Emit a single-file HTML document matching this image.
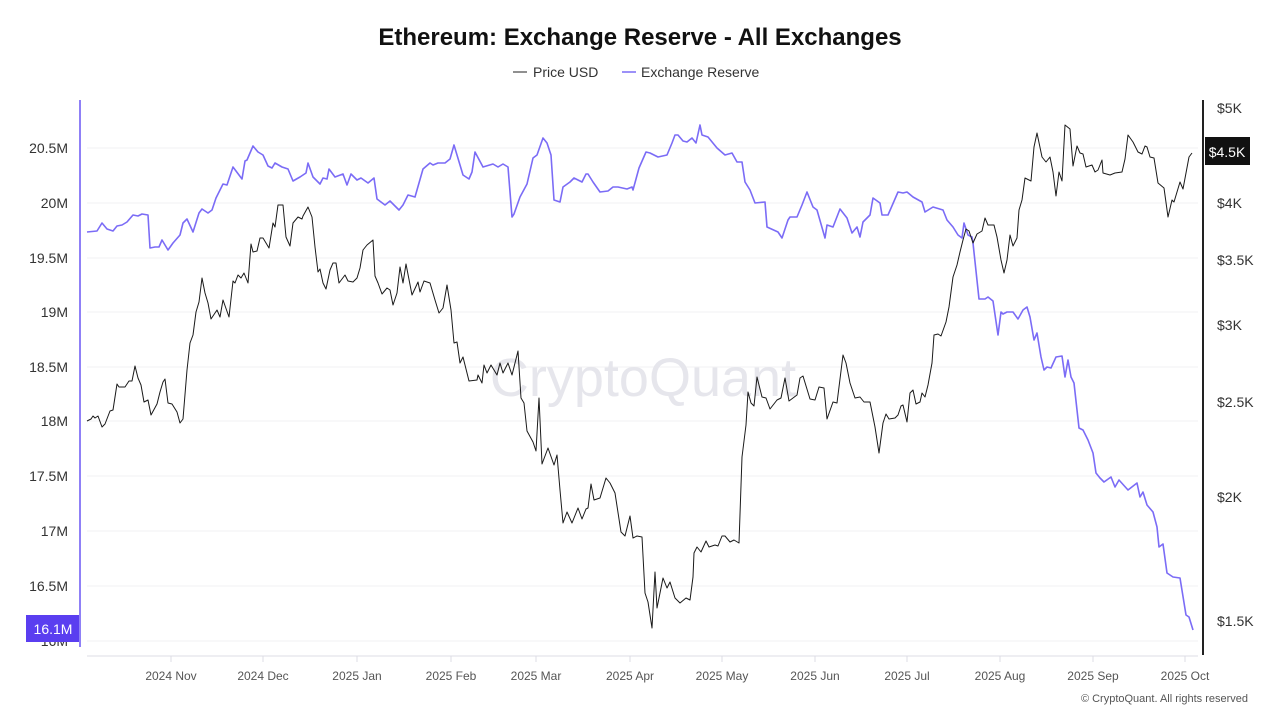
<!DOCTYPE html>
<html><head><meta charset="utf-8"><style>
body{margin:0;background:#fff;font-family:"Liberation Sans",sans-serif;}
svg{display:block}
</style></head><body>
<svg width="1280" height="720" viewBox="0 0 1280 720" font-family="Liberation Sans, sans-serif">
<rect width="1280" height="720" fill="#fff"/>
<text x="640" y="45" text-anchor="middle" font-size="24" font-weight="bold" fill="#111">Ethereum: Exchange Reserve - All Exchanges</text>
<line x1="513" y1="72" x2="527" y2="72" stroke="#222" stroke-width="1"/>
<text x="533" y="77" font-size="14" fill="#333">Price USD</text>
<line x1="622" y1="72" x2="636" y2="72" stroke="#7b6cf6" stroke-width="1.5"/>
<text x="641" y="77" font-size="14" fill="#333">Exchange Reserve</text>
<g stroke="#f1f1f3" stroke-width="1">
<line x1="87" x2="1198" y1="148" y2="148"/><line x1="87" x2="1198" y1="203" y2="203"/>
<line x1="87" x2="1198" y1="258" y2="258"/><line x1="87" x2="1198" y1="312" y2="312"/>
<line x1="87" x2="1198" y1="367" y2="367"/><line x1="87" x2="1198" y1="421" y2="421"/>
<line x1="87" x2="1198" y1="476" y2="476"/><line x1="87" x2="1198" y1="531" y2="531"/>
<line x1="87" x2="1198" y1="586" y2="586"/><line x1="87" x2="1198" y1="641" y2="641"/>
</g>
<text x="643" y="396" text-anchor="middle" font-size="54" fill="#e6e6ec">CryptoQuant</text>
<line x1="87" x2="1198" y1="656" y2="656" stroke="#dcdce4"/>
<g stroke="#dcdce4"><line x1="171" x2="171" y1="656" y2="662"/><line x1="263" x2="263" y1="656" y2="662"/><line x1="357" x2="357" y1="656" y2="662"/><line x1="451" x2="451" y1="656" y2="662"/><line x1="536" x2="536" y1="656" y2="662"/><line x1="630" x2="630" y1="656" y2="662"/><line x1="722" x2="722" y1="656" y2="662"/><line x1="815" x2="815" y1="656" y2="662"/><line x1="907" x2="907" y1="656" y2="662"/><line x1="1000" x2="1000" y1="656" y2="662"/><line x1="1093" x2="1093" y1="656" y2="662"/><line x1="1185" x2="1185" y1="656" y2="662"/></g>
<g font-size="12" fill="#555" text-anchor="middle">
<text x="171" y="680">2024 Nov</text><text x="263" y="680">2024 Dec</text><text x="357" y="680">2025 Jan</text><text x="451" y="680">2025 Feb</text><text x="536" y="680">2025 Mar</text><text x="630" y="680">2025 Apr</text><text x="722" y="680">2025 May</text><text x="815" y="680">2025 Jun</text><text x="907" y="680">2025 Jul</text><text x="1000" y="680">2025 Aug</text><text x="1093" y="680">2025 Sep</text><text x="1185" y="680">2025 Oct</text>
</g>
<text x="1248" y="702" text-anchor="end" font-size="11" fill="#555">© CryptoQuant. All rights reserved</text>
<g font-size="14" fill="#333" text-anchor="end">
<text x="68" y="153">20.5M</text><text x="68" y="208">20M</text><text x="68" y="263">19.5M</text><text x="68" y="317">19M</text><text x="68" y="372">18.5M</text><text x="68" y="426">18M</text><text x="68" y="481">17.5M</text><text x="68" y="536">17M</text><text x="68" y="591">16.5M</text><text x="68" y="646">16M</text>
</g>
<rect x="26" y="615" width="53" height="27" fill="#5a3ef0"/>
<text x="53" y="634" text-anchor="middle" font-size="14" fill="#fff">16.1M</text>
<line x1="80" y1="100" x2="80" y2="647" stroke="#8f80f7" stroke-width="2"/>
<line x1="1203" y1="100" x2="1203" y2="655" stroke="#222" stroke-width="2"/>
<g font-size="14" fill="#333">
<text x="1217" y="113">$5K</text><text x="1217" y="208">$4K</text><text x="1217" y="265">$3.5K</text><text x="1217" y="330">$3K</text><text x="1217" y="407">$2.5K</text><text x="1217" y="502">$2K</text><text x="1217" y="626">$1.5K</text>
</g>
<rect x="1205" y="137" width="45" height="28" fill="#111"/>
<text x="1227" y="157" text-anchor="middle" font-size="14" fill="#fff">$4.5K</text>
<polyline fill="none" stroke="#7b6cf6" stroke-width="1.6" stroke-linejoin="round" points="87,232 97,231 102,223 107,229 113,231 117,226 122,225 127,222 133,215 138,216 142,214 148,215 150,248 155,247 159,247 162,240 168,250 173,243 180,235 183,223 187,219 193,232 199,213 202,209 208,213 212,210 216,198 223,184 227,185 233,167 242,179 245,161 247,160 253,146 258,152 263,155 268,166 272,168 275,163 282,167 288,169 293,181 300,177 306,173 308,163 313,177 320,184 323,178 327,179 329,169 335,177 343,174 347,185 351,174 357,180 361,178 368,183 374,178 377,199 385,205 390,201 399,210 403,205 408,195 415,197 423,169 430,163 433,165 438,163 445,163 450,159 454,145 460,165 463,175 469,179 472,172 475,152 483,167 493,164 498,167 503,164 508,167 512,217 514,214 520,197 527,184 533,158 537,155 543,138 547,143 551,155 554,200 560,202 563,187 570,182 574,178 582,182 586,174 588,174 593,182 600,192 608,191 613,187 618,187 627,189 632,187 633,190 639,168 646,152 650,153 658,157 667,155 672,143 675,135 678,135 683,141 687,142 692,138 696,143 700,125 702,135 708,137 717,148 725,155 732,153 737,162 742,162 745,182 750,190 755,203 765,202 767,227 778,232 782,238 788,220 790,217 797,217 802,205 807,192 813,207 817,210 825,238 827,225 833,227 840,209 847,218 852,233 857,227 860,237 863,222 870,215 873,198 880,203 882,215 888,215 898,192 903,193 907,192 913,197 922,202 925,212 933,207 943,210 947,220 953,227 958,235 962,238 964,223 968,235 972,237 973,243 979,299 985,299 988,297 993,301 998,335 1001,312 1003,314 1007,312 1013,312 1018,319 1023,310 1027,307 1030,317 1034,340 1037,333 1041,357 1044,370 1047,367 1051,368 1056,357 1062,356 1065,377 1068,360 1071,377 1074,383 1079,428 1083,430 1088,440 1093,453 1096,473 1100,478 1104,482 1111,477 1115,487 1119,480 1128,490 1137,483 1140,497 1143,492 1147,505 1153,512 1157,527 1159,547 1163,544 1167,573 1173,577 1180,578 1186,615 1189,617 1193,630"/>
<polyline fill="none" stroke="#1a1a1a" stroke-width="1" stroke-linejoin="round" points="87,421 91,419 93,416 95,418 98,416 102,427 105,424 110,411 113,410 117,384 119,387 125,387 129,381 132,381 135,366 138,378 141,385 144,402 148,400 151,415 157,404 160,392 163,382 165,379 168,403 172,404 177,412 180,423 183,419 187,370 190,343 193,335 196,312 199,302 202,278 205,293 208,303 211,319 217,310 220,317 223,300 229,317 233,281 235,283 238,275 241,278 244,273 248,283 251,244 253,252 257,251 260,238 263,238 269,248 273,223 275,227 278,205 283,205 286,237 290,246 293,223 298,217 302,219 303,216 308,207 312,217 315,247 318,272 320,269 323,283 326,289 330,270 333,263 336,263 339,283 345,275 348,281 353,282 357,278 360,268 363,250 367,245 373,240 375,276 378,283 382,294 387,288 390,290 393,305 397,293 400,267 403,283 406,264 412,295 418,282 420,292 424,281 430,283 435,300 439,313 443,308 447,285 451,310 454,343 457,342 460,363 463,357 469,381 477,380 478,375 482,383 484,365 487,373 491,365 497,375 500,363 503,373 508,363 512,375 518,351 521,398 524,403 527,431 533,442 536,451 539,398 542,464 548,448 554,465 557,455 560,490 563,523 567,512 572,523 578,508 582,519 586,509 588,508 591,484 594,500 600,498 606,478 610,483 615,493 621,532 625,536 630,516 633,538 637,536 642,537 645,593 648,602 652,628 655,572 657,608 663,578 667,588 670,582 675,598 680,603 686,598 690,600 693,577 694,553 697,547 701,552 706,541 709,547 715,545 718,546 722,536 725,536 730,542 734,540 739,543 742,457 746,425 748,392 751,403 754,406 757,377 762,397 766,398 770,409 777,400 781,398 785,378 789,401 797,395 800,378 803,376 810,399 815,400 819,387 824,388 827,419 833,402 837,403 843,355 846,363 850,383 855,398 860,397 864,402 870,402 875,427 879,453 883,423 886,414 889,419 895,418 898,415 901,406 903,405 907,422 910,393 913,390 916,404 920,402 922,393 925,397 928,385 932,363 934,335 938,334 941,336 946,322 949,307 953,277 957,265 960,252 963,240 966,229 969,231 973,243 977,234 982,231 985,218 988,225 994,225 997,237 1001,260 1004,273 1007,260 1010,235 1013,246 1017,238 1019,210 1022,200 1025,178 1031,181 1034,147 1037,133 1042,157 1046,162 1050,157 1053,172 1056,196 1059,172 1062,181 1065,125 1070,129 1073,166 1077,146 1080,153 1083,154 1086,167 1092,165 1095,172 1098,170 1102,160 1103,173 1110,175 1115,173 1122,172 1125,159 1128,135 1133,142 1138,152 1142,154 1145,146 1147,147 1150,157 1154,158 1158,183 1164,188 1168,217 1172,200 1174,202 1180,182 1183,189 1189,157 1192,153"/>
</svg>
</body></html>
